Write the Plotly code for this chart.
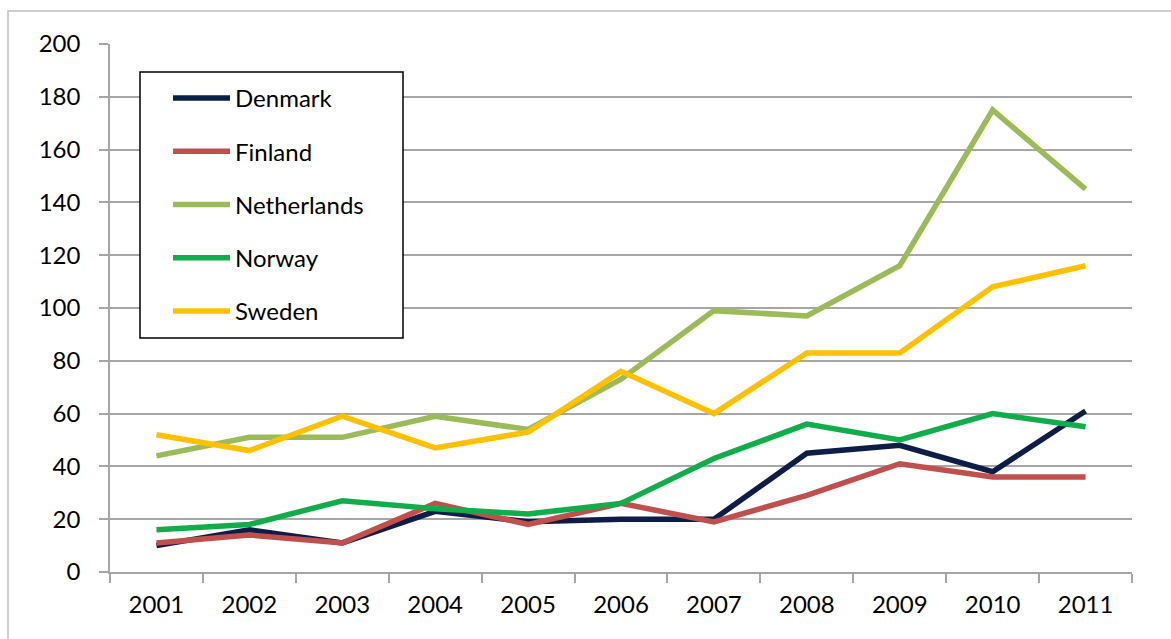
import plotly.graph_objects as go

years = ["2001", "2002", "2003", "2004", "2005", "2006", "2007", "2008", "2009", "2010", "2011"]

denmark = [10, 16, 11, 23, 19, 20, 20, 45, 48, 38, 61]
finland = [11, 14, 11, 26, 18, 26, 19, 29, 41, 36, 36]
netherlands = [44, 51, 51, 59, 54, 73, 99, 97, 116, 175, 145]
norway = [16, 18, 27, 24, 22, 26, 43, 56, 50, 60, 55]
sweden = [52, 46, 59, 47, 53, 76, 60, 83, 83, 108, 116]

y_ticks = [0, 20, 40, 60, 80, 100, 120, 140, 160, 180, 200]

series = [
    ("Denmark", denmark, "#0E1D48"),
    ("Finland", finland, "#C0504D"),
    ("Netherlands", netherlands, "#9BBB59"),
    ("Norway", norway, "#12AD4B"),
    ("Sweden", sweden, "#FFC000"),
]

FONT = "Lato, 'Open Sans', sans-serif"
GRID = "#A6A6A6"
FS = 24

fig = go.Figure()
for i, (name, vals, color) in enumerate(series):
    fig.add_trace(go.Scatter(
        x=years, y=vals, name=name, mode="lines",
        legendgroup=f"g{i}",
        line=dict(color=color, width=5.5, shape="linear"),
    ))

W, H = 1171, 639
L, R, T, B = 110, 39, 44, 67
pw, ph = W - L - R, H - T - B


def px_x(p):
    return (p - L) / pw


def px_y(p):
    return (H - B - p) / ph


fig.update_layout(
    width=W, height=H,
    margin=dict(l=L, r=R, t=T, b=B, pad=0),
    paper_bgcolor="white", plot_bgcolor="white",
    font=dict(family=FONT, size=FS, color="#000000"),
    showlegend=True,
    legend=dict(
        x=px_x(168), y=px_y(76), xanchor="left", yanchor="top",
        bgcolor="rgba(0,0,0,0)", borderwidth=0,
        traceorder="grouped", tracegroupgap=19,
        font=dict(family=FONT, size=FS, color="#000000"),
        itemwidth=57,
    ),
    xaxis=dict(
        type="category", range=[-0.5, len(years) - 0.5],
        showgrid=False, zeroline=False,
        showline=True, linecolor=GRID, linewidth=1.5,
        ticks="outside", ticklen=9, tickwidth=1.5, tickcolor=GRID,
        tickson="boundaries", ticklabelstandoff=10,
        tickfont=dict(family=FONT, size=FS, color="#000000"),
    ),
    yaxis=dict(
        range=[0, 200], tickvals=y_ticks,
        showgrid=True, gridcolor=GRID, gridwidth=1.5,
        zeroline=False,
        showline=True, linecolor=GRID, linewidth=1.5,
        ticks="outside", ticklen=9, tickwidth=1.5, tickcolor=GRID,
        ticklabelstandoff=14,
        tickfont=dict(family=FONT, size=FS, color="#000000"),
    ),
    shapes=[
        # outer chart frame
        dict(type="rect", xref="paper", yref="paper",
             x0=px_x(8), x1=px_x(W + 10), y0=px_y(H + 10), y1=px_y(11),
             line=dict(color="#BFBFBF", width=1.5), fillcolor="rgba(0,0,0,0)",
             layer="below"),
        # legend frame
        dict(type="rect", xref="paper", yref="paper",
             x0=px_x(140), x1=px_x(403), y0=px_y(338), y1=px_y(72),
             line=dict(color="#000000", width=1.5), fillcolor="white",
             layer="above"),
    ],
)

fig.write_html("out.html")
